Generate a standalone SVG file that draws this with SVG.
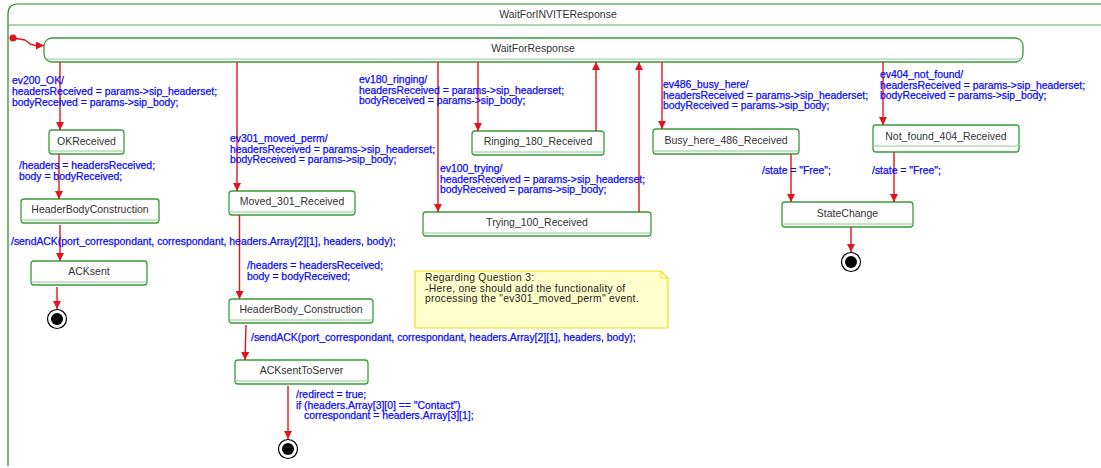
<svg xmlns="http://www.w3.org/2000/svg" width="1101" height="468" viewBox="0 0 1101 468">
  <style>
    .frame { fill: none; stroke: #1f8a1f; stroke-width: 1.2; }
    .sep { stroke: #5fae5f; stroke-width: 1.2; }
    .state { fill: #ffffff; stroke: #3a9a3a; stroke-width: 1.3; }
    .cmp { stroke: #8cc88c; stroke-width: 1; }
    .name { font-family: "Liberation Sans", Arial, sans-serif; font-size: 10.5px; fill: #333333; text-anchor: middle; }
    .lbl { font-family: "Liberation Sans", Arial, sans-serif; font-size: 10.4px; fill: #0a0aff; stroke: #0a0aff; stroke-width: 0.25px; }
    .note { font-family: "Liberation Sans", Arial, sans-serif; font-size: 10.3px; fill: #222222; letter-spacing: 0.3px; }
    .tr { fill: none; stroke: #e0141e; stroke-width: 1.4; }
    .fin-o { fill: #ffffff; stroke: #000000; stroke-width: 1.2; }
    .fin-i { fill: #000000; }
  </style>
  <defs>
    <marker id="arrow" viewBox="0 0 10 10" refX="10" refY="5" markerWidth="9" markerHeight="8" markerUnits="userSpaceOnUse" orient="auto">
      <path d="M0,0 L10,5 L0,10 Z" fill="#e0141e"/>
    </marker>
  </defs>
  <rect width="1101" height="468" fill="#ffffff"/>

  <!-- composite state frame -->
  <g id="WaitForINVITEResponse">
    <path class="frame" d="M8,466 L8,14 Q8,4 18,4 L1101,4"/>
    <line class="sep" x1="8" y1="25" x2="1101" y2="25"/>
    <text class="name" x="558" y="18">WaitForINVITEResponse</text>
  </g>

  <!-- initial pseudo state -->
  <g id="initial">
    <circle cx="13" cy="38" r="3.6" fill="#e0141e"/>
  </g>

  <g id="WaitForResponse">
    <rect class="state" x="44" y="38" width="979" height="24" rx="8"/>
    <line class="cmp" x1="46" y1="59" x2="1021" y2="59"/>
    <text class="name" x="533" y="52">WaitForResponse</text>
  </g>

  <g id="OKReceived">
    <rect class="state" x="49" y="130" width="75" height="24" rx="3"/>
    <line class="cmp" x1="49" y1="151" x2="124" y2="151"/>
    <text class="name" x="86.5" y="145">OKReceived</text>
  </g>
  <g id="HeaderBodyConstruction">
    <rect class="state" x="21" y="199" width="138" height="24" rx="3"/>
    <line class="cmp" x1="21" y1="220" x2="159" y2="220"/>
    <text class="name" x="90" y="213">HeaderBodyConstruction</text>
  </g>
  <g id="ACKsent">
    <rect class="state" x="31" y="261" width="116" height="24" rx="3"/>
    <line class="cmp" x1="31" y1="282" x2="147" y2="282"/>
    <text class="name" x="89" y="275">ACKsent</text>
  </g>
  <g id="final1">
    <circle class="fin-o" cx="57" cy="319" r="9.5"/>
    <circle class="fin-i" cx="57" cy="319" r="6"/>
  </g>

  <g id="Moved_301_Received">
    <rect class="state" x="229" y="191" width="126" height="24" rx="3"/>
    <line class="cmp" x1="229" y1="212" x2="355" y2="212"/>
    <text class="name" x="292" y="205">Moved_301_Received</text>
  </g>
  <g id="HeaderBody_Construction">
    <rect class="state" x="229" y="299" width="144" height="24" rx="3"/>
    <line class="cmp" x1="229" y1="320" x2="373" y2="320"/>
    <text class="name" x="301" y="313">HeaderBody_Construction</text>
  </g>
  <g id="ACKsentToServer">
    <rect class="state" x="235" y="360" width="133" height="24" rx="3"/>
    <line class="cmp" x1="235" y1="381" x2="368" y2="381"/>
    <text class="name" x="301.5" y="374">ACKsentToServer</text>
  </g>
  <g id="final2">
    <circle class="fin-o" cx="288" cy="449" r="9.5"/>
    <circle class="fin-i" cx="288" cy="449" r="6"/>
  </g>

  <g id="Ringing_180_Received">
    <rect class="state" x="472" y="131" width="132" height="24" rx="3"/>
    <line class="cmp" x1="472" y1="152" x2="604" y2="152"/>
    <text class="name" x="538" y="145">Ringing_180_Received</text>
  </g>
  <g id="Trying_100_Received">
    <rect class="state" x="423" y="212" width="228" height="24" rx="3"/>
    <line class="cmp" x1="423" y1="233" x2="651" y2="233"/>
    <text class="name" x="537" y="226">Trying_100_Received</text>
  </g>

  <g id="Busy_here_486_Received">
    <rect class="state" x="653" y="129" width="146" height="25" rx="3"/>
    <line class="cmp" x1="653" y1="151" x2="799" y2="151"/>
    <text class="name" x="726" y="144">Busy_here_486_Received</text>
  </g>
  <g id="Not_found_404_Received">
    <rect class="state" x="873" y="125" width="146" height="27" rx="3"/>
    <line class="cmp" x1="873" y1="146" x2="1021" y2="146"/>
    <text class="name" x="946" y="140">Not_found_404_Received</text>
  </g>
  <g id="StateChange">
    <rect class="state" x="782" y="202" width="131" height="25" rx="3"/>
    <line class="cmp" x1="782" y1="224" x2="913" y2="224"/>
    <text class="name" x="847.5" y="217">StateChange</text>
  </g>
  <g id="final3">
    <circle class="fin-o" cx="851" cy="262" r="9.5"/>
    <circle class="fin-i" cx="851" cy="262" r="6"/>
  </g>

  <!-- comment note -->
  <g id="note">
    <path d="M415,271 L661,271 L668,278 L668,328 L415,328 Z" fill="#ffffcc" stroke="#e6e21a" stroke-width="1.2"/>
    <path d="M661,271 L661,278 L668,278" fill="none" stroke="#e6e21a" stroke-width="1"/>
    <text class="note" x="425" y="281">Regarding Question 3:</text>
    <text class="note" x="425" y="291.5">-Here, one should add the functionality of</text>
    <text class="note" x="425" y="302">processing the "ev301_moved_perm" event.</text>
  </g>

  <!-- transitions -->
  <g id="connectors">
    <path class="tr" d="M13,38 L25,40 Q28,42 30,44 L35,45.5 L44,45.5" marker-end="url(#arrow)"/>
    <line class="tr" x1="60" y1="62" x2="60" y2="130" marker-end="url(#arrow)"/>
    <line class="tr" x1="59" y1="154" x2="59" y2="199" marker-end="url(#arrow)"/>
    <line class="tr" x1="60" y1="225" x2="60" y2="261" marker-end="url(#arrow)"/>
    <line class="tr" x1="57" y1="287" x2="57" y2="309" marker-end="url(#arrow)"/>

    <line class="tr" x1="237" y1="62" x2="237" y2="191" marker-end="url(#arrow)"/>
    <line class="tr" x1="239.5" y1="215" x2="239.5" y2="299" marker-end="url(#arrow)"/>
    <line class="tr" x1="246" y1="325" x2="245" y2="360" marker-end="url(#arrow)"/>
    <line class="tr" x1="288" y1="386" x2="288" y2="439" marker-end="url(#arrow)"/>

    <line class="tr" x1="438" y1="62" x2="438" y2="212" marker-end="url(#arrow)"/>
    <line class="tr" x1="478" y1="62" x2="478" y2="131" marker-end="url(#arrow)"/>
    <line class="tr" x1="596" y1="131" x2="596" y2="62" marker-end="url(#arrow)"/>
    <line class="tr" x1="639" y1="212" x2="639" y2="62" marker-end="url(#arrow)"/>

    <line class="tr" x1="662" y1="62" x2="662" y2="129" marker-end="url(#arrow)"/>
    <line class="tr" x1="883" y1="62" x2="883" y2="125" marker-end="url(#arrow)"/>
    <line class="tr" x1="791" y1="154" x2="791" y2="202" marker-end="url(#arrow)"/>
    <line class="tr" x1="894" y1="152" x2="894" y2="202" marker-end="url(#arrow)"/>
    <line class="tr" x1="851" y1="227" x2="851" y2="252" marker-end="url(#arrow)"/>
  </g>

  <!-- transition labels -->
  <g id="labels">
    <text class="lbl" x="12" y="84">ev200_OK/</text>
    <text class="lbl" x="12" y="95">headersReceived = params-&gt;sip_headerset;</text>
    <text class="lbl" x="12" y="105.5">bodyReceived = params-&gt;sip_body;</text>

    <text class="lbl" x="19" y="169">/headers = headersReceived;</text>
    <text class="lbl" x="19" y="180">body = bodyReceived;</text>
    <text class="lbl" x="11" y="245">/sendACK(port_correspondant, correspondant, headers.Array[2][1], headers, body);</text>

    <text class="lbl" x="230" y="142">ev301_moved_perm/</text>
    <text class="lbl" x="230" y="152.5">headersReceived = params-&gt;sip_headerset;</text>
    <text class="lbl" x="230" y="163">bodyReceived = params-&gt;sip_body;</text>
    <text class="lbl" x="247" y="269">/headers = headersReceived;</text>
    <text class="lbl" x="247" y="280">body = bodyReceived;</text>
    <text class="lbl" x="251" y="341">/sendACK(port_correspondant, correspondant, headers.Array[2][1], headers, body);</text>
    <text class="lbl" x="296" y="398">/redirect = true;</text>
    <text class="lbl" x="296" y="408.5">if (headers.Array[3][0] == "Contact")</text>
    <text class="lbl" x="304" y="419">correspondant = headers.Array[3][1];</text>

    <text class="lbl" x="359" y="83">ev180_ringing/</text>
    <text class="lbl" x="359" y="93.5">headersReceived = params-&gt;sip_headerset;</text>
    <text class="lbl" x="359" y="104">bodyReceived = params-&gt;sip_body;</text>

    <text class="lbl" x="440" y="172">ev100_trying/</text>
    <text class="lbl" x="440" y="182.5">headersReceived = params-&gt;sip_headerset;</text>
    <text class="lbl" x="440" y="193">bodyReceived = params-&gt;sip_body;</text>

    <text class="lbl" x="663" y="88">ev486_busy_here/</text>
    <text class="lbl" x="663" y="98.5">headersReceived = params-&gt;sip_headerset;</text>
    <text class="lbl" x="663" y="109">bodyReceived = params-&gt;sip_body;</text>

    <text class="lbl" x="880" y="78">ev404_not_found/</text>
    <text class="lbl" x="880" y="88.5">headersReceived = params-&gt;sip_headerset;</text>
    <text class="lbl" x="880" y="99">bodyReceived = params-&gt;sip_body;</text>

    <text class="lbl" x="762" y="174">/state = "Free";</text>
    <text class="lbl" x="872" y="174">/state = "Free";</text>
  </g>
</svg>
